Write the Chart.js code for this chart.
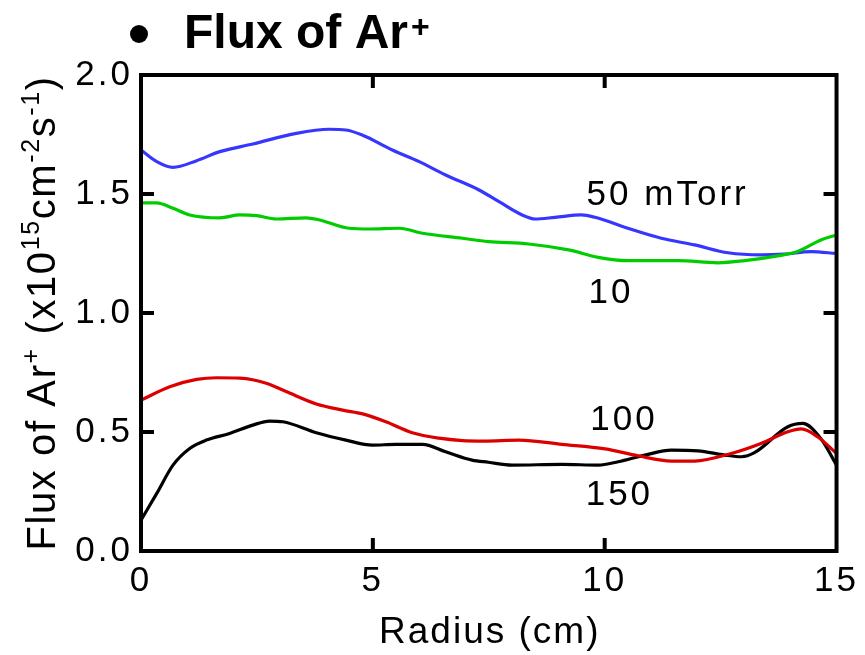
<!DOCTYPE html>
<html>
<head>
<meta charset="utf-8">
<script src="https://cdn.jsdelivr.net/npm/chart.js@4.4.1/dist/chart.umd.min.js"></script>
<style>
  html, body { margin: 0; padding: 0; background: #ffffff; }
  #wrap { width: 865px; height: 655px; position: relative; }
</style>
</head>
<body>
<div id="wrap"><canvas id="flux" width="865" height="655"></canvas></div>
<script>
// radius (cm) and Ar+ flux (x10^15 cm^-2 s^-1) for each pressure
const r10 = [0, 0.34, 0.69, 1.05, 1.7, 2.13, 2.49, 2.92, 3.56, 3.85, 4.49, 4.92, 5.57, 6.07, 6.93, 7.49, 8.36, 9.22, 9.86, 10.5, 11.58, 12.44, 13.02, 13.73, 14.16, 14.66, 15];
const flux10 = [1.463, 1.463, 1.44, 1.412, 1.4, 1.412, 1.409, 1.395, 1.4, 1.391, 1.356, 1.353, 1.356, 1.335, 1.314, 1.3, 1.29, 1.265, 1.234, 1.22, 1.22, 1.211, 1.22, 1.24, 1.258, 1.307, 1.328];

const r50 = [0, 0.35, 0.69, 1.2, 1.7, 2.41, 3.35, 4.06, 4.42, 4.77, 5.42, 6.0, 6.57, 7.29, 7.72, 8.22, 8.5, 8.93, 9.5, 9.79, 10.5, 11.22, 11.94, 12.66, 13.37, 13.87, 14.45, 15];
const flux50 = [1.685, 1.635, 1.612, 1.64, 1.678, 1.71, 1.755, 1.772, 1.769, 1.748, 1.685, 1.636, 1.58, 1.517, 1.468, 1.412, 1.395, 1.402, 1.412, 1.402, 1.356, 1.314, 1.286, 1.253, 1.244, 1.247, 1.258, 1.25];

const r100 = [0, 0.62, 1.2, 1.63, 2.13, 2.7, 3.13, 3.78, 4.35, 4.78, 5.28, 5.85, 6.43, 6.93, 7.4, 8.15, 9.08, 10.01, 10.72, 11.44, 11.94, 12.73, 13.37, 13.95, 14.24, 14.59, 15];
const flux100 = [0.634, 0.69, 0.721, 0.728, 0.726, 0.705, 0.67, 0.618, 0.592, 0.576, 0.543, 0.497, 0.474, 0.464, 0.462, 0.466, 0.448, 0.429, 0.4, 0.378, 0.378, 0.41, 0.452, 0.501, 0.513, 0.48, 0.41];

const r150 = [0, 0.34, 0.69, 1.05, 1.41, 1.91, 2.41, 2.77, 3.06, 3.78, 4.42, 4.99, 5.49, 6.07, 6.57, 7.14, 7.49, 8.0, 9.08, 9.86, 10.29, 10.87, 11.44, 12.01, 12.59, 12.95, 13.23, 13.95, 14.27, 14.66, 15];
const flux150 = [0.13, 0.242, 0.361, 0.431, 0.466, 0.494, 0.529, 0.546, 0.543, 0.497, 0.466, 0.445, 0.448, 0.448, 0.417, 0.382, 0.373, 0.361, 0.364, 0.361, 0.375, 0.403, 0.424, 0.421, 0.403, 0.396, 0.413, 0.522, 0.536, 0.473, 0.361];

const xTicks = [0, 5, 10, 15];
const yTicks = [0, 0.5, 1.0, 1.5, 2.0];
const seriesNames = ["10", "50 mTorr", "100", "150"];

const FONT = "'Liberation Sans', Arial, sans-serif";

function pairs(xs, ys) {
  return xs.map((x, i) => ({ x: x, y: ys[i] }));
}

// text next to each curve, placed in data units
const curveLabels = [
  { text: seriesNames[1], x: 9.61, y: 1.454 },
  { text: seriesNames[0], x: 9.65, y: 1.042 },
  { text: seriesNames[2], x: 9.69, y: 0.508 },
  { text: seriesNames[3], x: 9.59, y: 0.193 },
];

function drawRich(ctx, parts, x, y, size, supSize, spacing) {
  let cx = x;
  parts.forEach((p) => {
    ctx.font = (p.sup ? supSize : size) + "px " + FONT;
    ctx.letterSpacing = spacing + "px";
    ctx.fillText(p.t, cx, p.sup ? y - size * 0.4 : y);
    cx += ctx.measureText(p.t).width;
  });
  return cx - x;
}

function richWidth(ctx, parts, size, supSize, spacing) {
  let w = 0;
  parts.forEach((p) => {
    ctx.font = (p.sup ? supSize : size) + "px " + FONT;
    ctx.letterSpacing = spacing + "px";
    w += ctx.measureText(p.t).width;
  });
  return w;
}

const decorations = {
  id: "decorations",
  beforeDraw(chart) {
    // tick labels are set a little wide
    chart.ctx.letterSpacing = "3px";
  },
  afterDraw(chart) {
    const ctx = chart.ctx;
    const area = chart.chartArea;
    const xs = chart.scales.x;
    const ys = chart.scales.y;

    ctx.save();
    ctx.strokeStyle = "#000";
    ctx.fillStyle = "#000";

    // inward ticks on all four sides
    ctx.lineWidth = 4;
    const tl = 13;
    xTicks.slice(1, -1).forEach((v) => {
      const px = xs.getPixelForValue(v);
      ctx.beginPath();
      ctx.moveTo(px, area.bottom);
      ctx.lineTo(px, area.bottom - tl);
      ctx.moveTo(px, area.top);
      ctx.lineTo(px, area.top + tl);
      ctx.stroke();
    });
    yTicks.slice(1, -1).forEach((v) => {
      const py = ys.getPixelForValue(v);
      ctx.beginPath();
      ctx.moveTo(area.left, py);
      ctx.lineTo(area.left + tl, py);
      ctx.moveTo(area.right, py);
      ctx.lineTo(area.right - tl, py);
      ctx.stroke();
    });

    // frame
    ctx.lineWidth = 4;
    ctx.strokeRect(area.left, area.top, area.right - area.left, area.bottom - area.top);

    // curve labels
    ctx.textAlign = "left";
    ctx.textBaseline = "alphabetic";
    ctx.font = "35px " + FONT;
    ctx.letterSpacing = "3px";
    curveLabels.forEach((l) => {
      ctx.fillText(l.text, xs.getPixelForValue(l.x), ys.getPixelForValue(l.y));
    });

    // x axis title
    ctx.textAlign = "center";
    ctx.font = "37px " + FONT;
    ctx.letterSpacing = "2px";
    ctx.fillText("Radius (cm)", (area.left + area.right) / 2 + 1, 643);

    // y axis title, rotated
    ctx.textAlign = "left";
    const yParts = [
      { t: "Flux of Ar" },
      { t: "+", sup: true },
      { t: " (x10" },
      { t: "15", sup: true },
      { t: "cm" },
      { t: "-2", sup: true },
      { t: "s" },
      { t: "-1", sup: true },
      { t: ")" },
    ];
    const ySize = 40, ySup = 25, ySpace = 1.6;
    const total = richWidth(ctx, yParts, ySize, ySup, ySpace);
    ctx.save();
    ctx.translate(55, (area.top + area.bottom) / 2);
    ctx.rotate(-Math.PI / 2);
    drawRich(ctx, yParts, -total / 2, 0, ySize, ySup, ySpace);
    ctx.restore();

    // heading
    ctx.letterSpacing = "0px";
    ctx.beginPath();
    ctx.arc(139, 34, 9, 0, Math.PI * 2);
    ctx.fill();
    ctx.font = "bold 48px " + FONT;
    ctx.fillText("Flux of Ar", 184, 48);
    const hw = ctx.measureText("Flux of Ar").width;
    ctx.font = "bold 32px " + FONT;
    ctx.fillText("+", 184 + hw + 3, 37);

    ctx.restore();
  },
};

const lineStyle = {
  borderWidth: 3.2,
  pointRadius: 0,
  fill: false,
  cubicInterpolationMode: "monotone",
};

new Chart(document.getElementById("flux"), {
  type: "line",
  data: {
    datasets: [
      { label: seriesNames[0], data: pairs(r10, flux10), borderColor: "#00cc00", ...lineStyle },
      { label: seriesNames[1], data: pairs(r50, flux50), borderColor: "#3636ff", ...lineStyle },
      { label: seriesNames[2], data: pairs(r100, flux100), borderColor: "#dd0000", ...lineStyle },
      { label: seriesNames[3], data: pairs(r150, flux150), borderColor: "#000000", ...lineStyle },
    ],
  },
  options: {
    responsive: false,
    animation: false,
    layout: { padding: { top: 75, right: 26, left: 0, bottom: 0 } },
    plugins: {
      legend: { display: false },
      tooltip: { enabled: false },
    },
    scales: {
      x: {
        type: "linear",
        min: 0,
        max: 15,
        afterBuildTicks: (scale) => {
          scale.ticks = xTicks.map((v) => ({ value: v }));
        },
        afterFit: (scale) => {
          scale.height = 104;
        },
        grid: { display: false, drawTicks: false },
        border: { display: false },
        ticks: {
          color: "#000",
          padding: 9,
          maxRotation: 0,
          font: { family: FONT, size: 35 },
        },
      },
      y: {
        min: 0,
        max: 2,
        afterBuildTicks: (scale) => {
          scale.ticks = yTicks.map((v) => ({ value: v }));
        },
        afterFit: (scale) => {
          scale.width = 141;
        },
        grid: { display: false, drawTicks: false },
        border: { display: false },
        ticks: {
          color: "#000",
          padding: 8,
          font: { family: FONT, size: 35 },
          callback: (v) => v.toFixed(1),
        },
      },
    },
  },
  plugins: [decorations],
});
</script>
</body>
</html>
